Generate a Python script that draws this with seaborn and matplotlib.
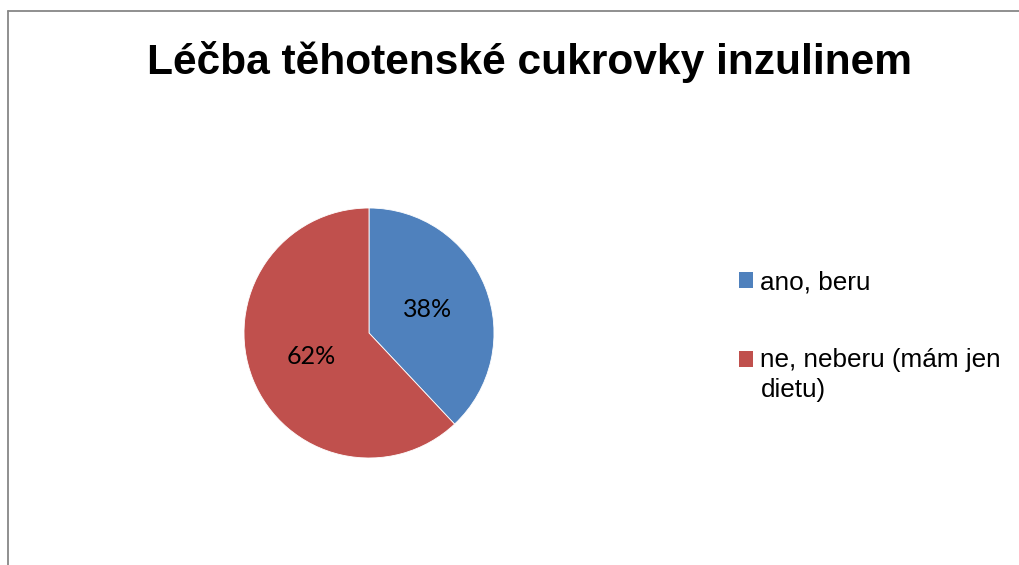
import matplotlib
matplotlib.use("Agg")
import matplotlib.pyplot as plt
from matplotlib.lines import Line2D
from matplotlib.patches import Patch, Rectangle
from matplotlib.legend_handler import HandlerPatch
import seaborn as sns

sns.set_theme(style="white")
plt.rcParams['font.family'] = ['Liberation Sans', 'DejaVu Sans']

title = "Léčba těhotenské cukrovky inzulinem"
categories = ["ano, beru", "ne, neberu (mám jen\ndietu)"]
values = [38, 62]
colors = ["#4F81BD", "#C0504D"]

W, H = 1019, 565
fig = plt.figure(figsize=(W / 100, H / 100), dpi=100)
fig.patch.set_facecolor("white")

# pie axes: center (369, 333) px, radius 125 px
cx, cy, r = 369, 333, 125
ax = fig.add_axes([(cx - r) / W, (H - cy - r) / H, 2 * r / W, 2 * r / H])
wedges, texts, autotexts = ax.pie(
    values, colors=colors, startangle=90, counterclock=False,
    autopct=lambda p: f"{p:.0f}%", pctdistance=0.5, radius=1,
    wedgeprops=dict(linewidth=0.6, edgecolor="white"),
    textprops=dict(fontsize=18, family=['Lato', 'DejaVu Sans'], color="black"))
ax.set_xlim(-1, 1)
ax.set_ylim(-1, 1)
ax.set_aspect("equal")
ax.axis("off")

fig.text(529.5 / W, 1 - 62 / H, title, ha="center", va="center",
         fontsize=30.6, fontweight="bold", color="black")


class TopAlignedHandler(HandlerPatch):
    """Square marker aligned to the first text line of a multi-line label."""
    def __init__(self, shift, **kw):
        super().__init__(**kw)
        self.shift = shift

    def create_artists(self, legend, orig_handle, xdescent, ydescent,
                       width, height, fontsize, trans):
        p = Rectangle((-xdescent, -ydescent + self.shift * fontsize),
                      width, height, facecolor=orig_handle.get_facecolor(),
                      edgecolor=orig_handle.get_edgecolor(), linewidth=0,
                      transform=trans)
        return [p]


handles = [Patch(facecolor=c, edgecolor=c) for c in colors]
leg = fig.legend(handles, categories, loc="upper left",
                 bbox_to_anchor=(739 / W, 1 - 270 / H), frameon=False,
                 fontsize=18.8, handlelength=0.52, handleheight=0.55,
                 handletextpad=0.3, labelspacing=2.05, borderpad=0, borderaxespad=0,
                 handler_map={handles[0]: TopAlignedHandler(0.0),
                              handles[1]: TopAlignedHandler(0.6)})
for t in leg.get_texts():
    t.set_color("black")
    t.set_linespacing(1.34)

# chart-area frame (left and top edges visible)
fig.add_artist(Line2D([7.5 / W, 7.5 / W], [0, 1 - 10.5 / H], color="#878787",
                      linewidth=1.3, transform=fig.transFigure))
fig.add_artist(Line2D([7.5 / W, 1], [1 - 10.5 / H, 1 - 10.5 / H], color="#878787",
                      linewidth=1.3, transform=fig.transFigure))

fig.savefig("out.png", dpi=100, facecolor="white")
